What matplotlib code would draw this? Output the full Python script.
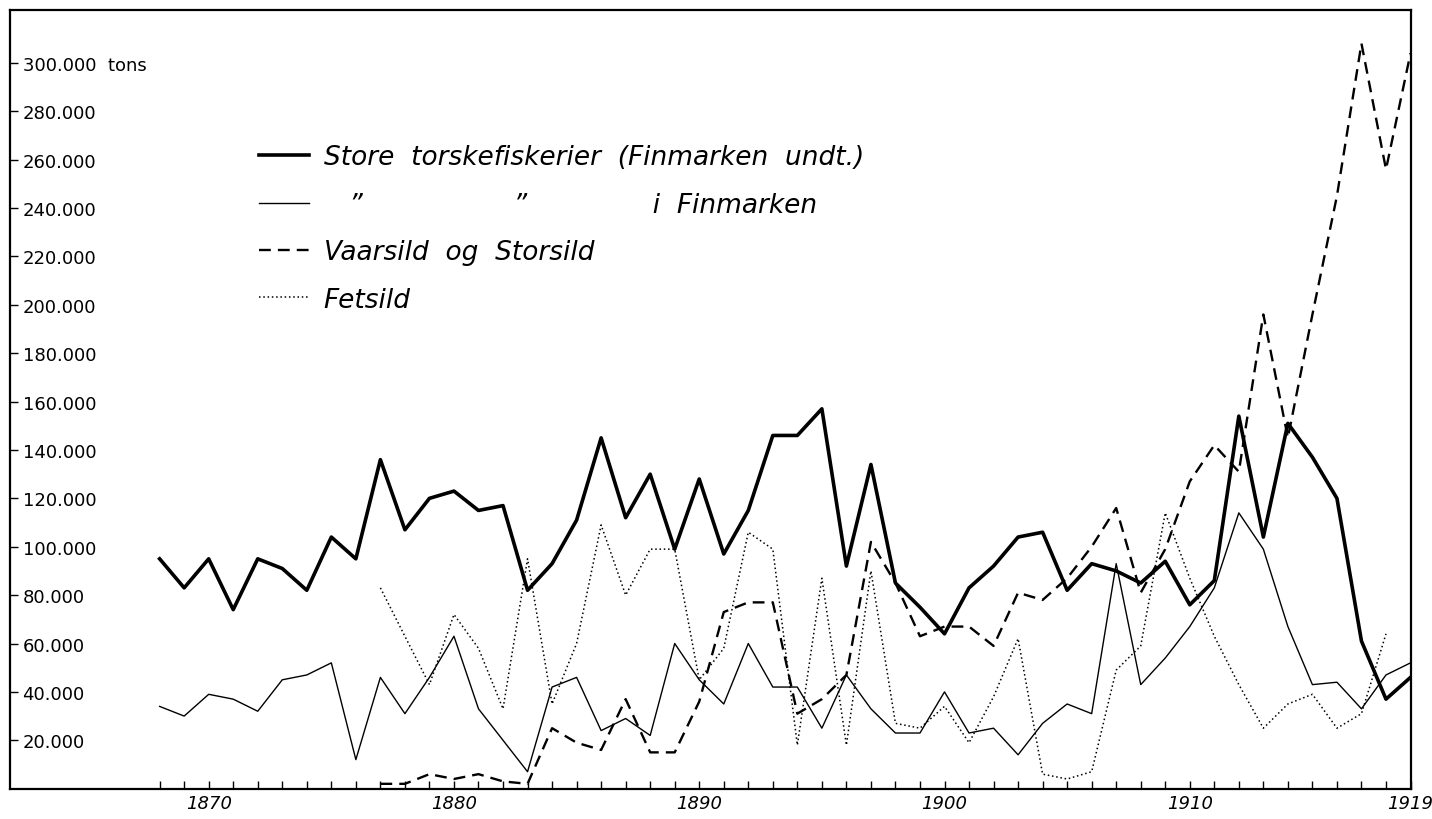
import numpy as np
import matplotlib.pyplot as plt

# years and catches (1000 tons)
years = np.arange(1868, 1920)
store = [95, 83, 95, 74, 95, 91, 82, 104, 95, 136,
         107, 120, 123, 115, 117, 82, 93, 111, 145, 112,
         130, 99, 128, 97, 115, 146, 146, 157, 92, 134,
         85, 75, 64, 83, 92, 104, 106, 82, 93, 90,
         85, 94, 76, 86, 154, 104, 151, 137, 120, 61,
         37, 46]
finmark = [34, 30, 39, 37, 32, 45, 47, 52, 12, 46,
           31, 46, 63, 33, 20, 7, 42, 46, 24, 29,
           22, 60, 45, 35, 60, 42, 42, 25, 47, 33,
           23, 23, 40, 23, 25, 14, 27, 35, 31, 93,
           43, 54, 67, 83, 114, 99, 67, 43, 44, 33,
           47, 52]

years_vs = np.arange(1877, 1920)
vaarsild = [2, 2, 6, 4, 6, 3, 2, 25, 19, 16,
            37, 15, 15, 36, 73, 77, 77, 31, 37, 47,
            102, 85, 63, 67, 67, 59, 81, 78, 87, 100,
            116, 81, 99, 127, 142, 131, 196, 145, 196, 245,
            308, 256, 304]

years_fs = np.arange(1877, 1919)
fetsild = [83, 63, 43, 72, 58, 33, 95, 35, 60, 109,
           80, 99, 99, 45, 58, 106, 99, 18, 87, 18,
           90, 27, 25, 34, 19, 38, 62, 6, 4, 7,
           49, 59, 114, 87, 63, 43, 25, 35, 39, 25,
           31, 64]

labels = ['Store  torskefiskerier  (Finmarken  undt.)',
          '   \u201d' + ' ' * 18 + '\u201d' + ' ' * 15 + 'i  Finmarken',
          'Vaarsild  og  Storsild',
          'Fetsild']

yticks = np.arange(20000, 300001, 20000)
ytick_labels = ['%d.000' % (v // 1000) for v in yticks]
ytick_labels[-1] = '300.000  tons'
xticks = [1870, 1880, 1890, 1900, 1910, 1919]

fig = plt.figure(figsize=(14.32, 8.2), dpi=100)
ax = fig.add_axes([0.007, 0.037, 0.978, 0.950])

l1, = ax.plot(years, np.array(store) * 1000, color='black', lw=2.6)
l2, = ax.plot(years, np.array(finmark) * 1000, color='black', lw=1.0)
l3, = ax.plot(years_vs, np.array(vaarsild) * 1000, color='black', lw=1.7,
              dashes=(5, 3))
l4, = ax.plot(years_fs, np.array(fetsild) * 1000, color='black', lw=1.1,
              dashes=(1, 1.8))

ax.set_xlim(1861.9, 1919)
ax.set_ylim(0, 322000)

for s in ax.spines.values():
    s.set_linewidth(1.6)

ax.set_yticks(yticks)
ax.set_yticklabels(ytick_labels, fontsize=13)
ax.tick_params(axis='y', direction='in', length=6, width=1, pad=-9)
for lbl in ax.get_yticklabels():
    lbl.set_horizontalalignment('left')

ax.set_xticks(xticks)
ax.set_xticklabels([str(x) for x in xticks], fontsize=13, style='italic')
ax.set_xticks(years, minor=True)
ax.tick_params(axis='x', which='both', direction='in', length=6, width=1, pad=4)

ax.legend([l1, l2, l3, l4], labels, loc='upper left',
          bbox_to_anchor=(0.168, 0.844), frameon=False,
          prop={'size': 19, 'style': 'italic'}, handlelength=1.9,
          handletextpad=0.57, labelspacing=0.81, borderpad=0)

fig.savefig('out.png', dpi=100)
